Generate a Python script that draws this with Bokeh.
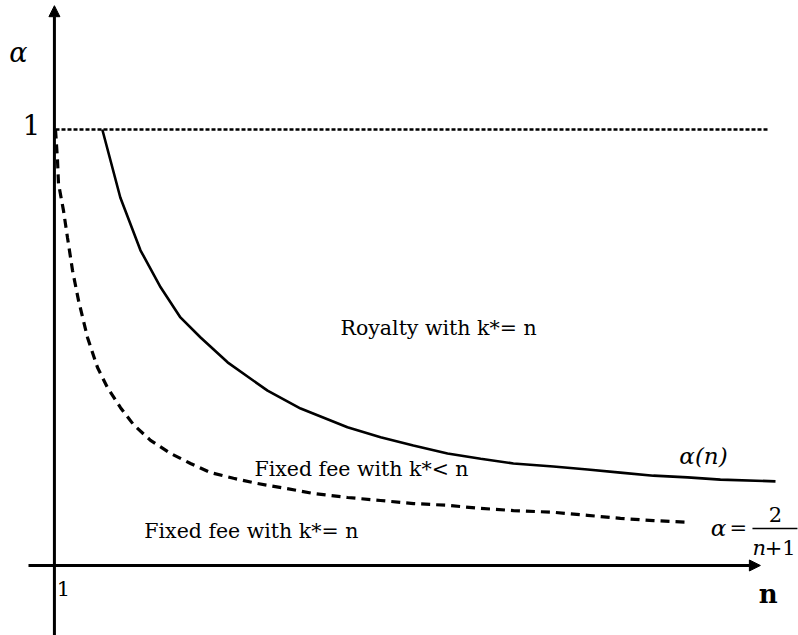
from bokeh.plotting import figure
from bokeh.models import Range1d, Arrow, NormalHead
from bokeh.core.properties import value
from bokeh.embed import file_html
from bokeh.resources import INLINE

# ---- data (n, alpha) ----
n_alpha = [2.3, 2.8, 3.36, 3.92, 4.47, 5.03, 5.78, 6.89, 7.81, 9.11, 10.03, 10.94,
           11.89, 12.81, 13.72, 14.83, 15.78, 16.69, 17.61, 18.56, 19.47, 21.0]
alpha_n = [1.0, 0.844, 0.723, 0.638, 0.569, 0.523, 0.466, 0.401, 0.360, 0.317, 0.294, 0.275,
           0.257, 0.245, 0.234, 0.227, 0.220, 0.213, 0.206, 0.202, 0.197, 0.193]

n_fee = [1.0, 1.056, 1.083, 1.222, 1.333, 1.472, 1.639, 1.889, 2.167, 2.444, 2.806, 3.167,
         3.639, 4.194, 4.75, 5.306, 5.944, 6.611, 7.722, 8.167, 9.111, 10.028, 10.944,
         11.889, 12.806, 13.722, 14.833, 15.778, 16.694, 17.611, 18.639]
alpha_fee = [1.0, 0.929, 0.876, 0.814, 0.752, 0.677, 0.608, 0.523, 0.454, 0.408, 0.362, 0.323,
             0.287, 0.257, 0.234, 0.213, 0.200, 0.188, 0.172, 0.165, 0.156, 0.149, 0.142,
             0.138, 0.131, 0.126, 0.122, 0.115, 0.108, 0.103, 0.099]

alpha_level = [1.0, 1.0]
n_level = [1.0, 20.78]

x_tick_labels = ["1"]
y_tick_labels = ["1"]

SERIF = "DejaVu Serif"

p = figure(width=798, height=635, output_backend="svg", toolbar_location=None,
           x_range=Range1d(-0.5278, 21.6389), y_range=Range1d(-0.1606, 1.2959),
           x_axis_type=None, y_axis_type=None, min_border=0,
           outline_line_color=None, background_fill_color="white")
p.grid.visible = False

# axes with arrows
p.add_layout(Arrow(end=NormalHead(size=11, fill_color="black", line_color="black", line_width=1),
                   x_start=0.97, y_start=-0.1606, x_end=0.97, y_end=1.284,
                   line_width=3, line_color="black"))
p.add_layout(Arrow(end=NormalHead(size=11, fill_color="black", line_color="black", line_width=1),
                   x_start=0.25, y_start=0.0, x_end=20.58, y_end=0.0,
                   line_width=3, line_color="black"))

# dotted level alpha = 1
p.line(n_level, alpha_level, line_color="black", line_width=2.5, line_dash="4 2")

# alpha(n) solid
p.line(n_alpha, alpha_n, line_color="black", line_width=2.6)

# 2/(n+1) dashed
p.line(n_fee, alpha_fee, line_color="black", line_width=3.2, line_dash="9 6")

# tick labels
p.text(x=[1.222], y=[-0.053], text=x_tick_labels, text_font=value(SERIF),
       text_font_size="21px", text_align="center", text_baseline="middle")
p.text(x=[0.333], y=[1.011], text=y_tick_labels, text_font=value(SERIF),
       text_font_size="28px", text_align="center", text_baseline="middle")

# axis labels
p.text(x=[-0.03], y=[1.177], text=["\u03b1"], text_font=value(SERIF), text_font_style="italic",
       text_font_size="27px", text_align="center", text_baseline="middle")
p.text(x=[20.8], y=[-0.066], text=["n"], text_font=value(SERIF), text_font_style="bold",
       text_font_size="26px", text_align="center", text_baseline="middle")

# region labels
p.text(x=[11.64, 9.5, 6.44], y=[0.5436, 0.2202, 0.078],
       text=["Royalty with k*= n", "Fixed fee with k*< n", "Fixed fee with k*= n"],
       text_font=value(SERIF), text_font_size="20.5px", text_align="center", text_baseline="middle")

# curve labels
p.text(x=[19.0], y=[0.25], text=["\u03b1(n)"], text_font=value(SERIF), text_font_style="italic",
       text_font_size="23px", text_align="center", text_baseline="middle")
p.text(x=[19.2], y=[0.085], text=["\u03b1"], text_font=value(SERIF), text_font_style="italic",
       text_font_size="23px", text_align="left", text_baseline="middle")
p.text(x=[19.72], y=[0.085], text=["="], text_font=value(SERIF),
       text_font_size="21px", text_align="left", text_baseline="middle")
p.segment(x0=[20.36], y0=[0.085], x1=[21.61], y1=[0.085], line_color="black", line_width=1.5)
p.text(x=[21.0], y=[0.118], text=["2"], text_font=value(SERIF),
       text_font_size="21px", text_align="center", text_baseline="middle")
p.text(x=[20.36], y=[0.041], text=["n"], text_font=value(SERIF), text_font_style="italic",
       text_font_size="21px", text_align="left", text_baseline="middle")
p.text(x=[20.7], y=[0.041], text=["+1"], text_font=value(SERIF),
       text_font_size="21px", text_align="left", text_baseline="middle")

open("out.html", "w").write(file_html(p, INLINE))
